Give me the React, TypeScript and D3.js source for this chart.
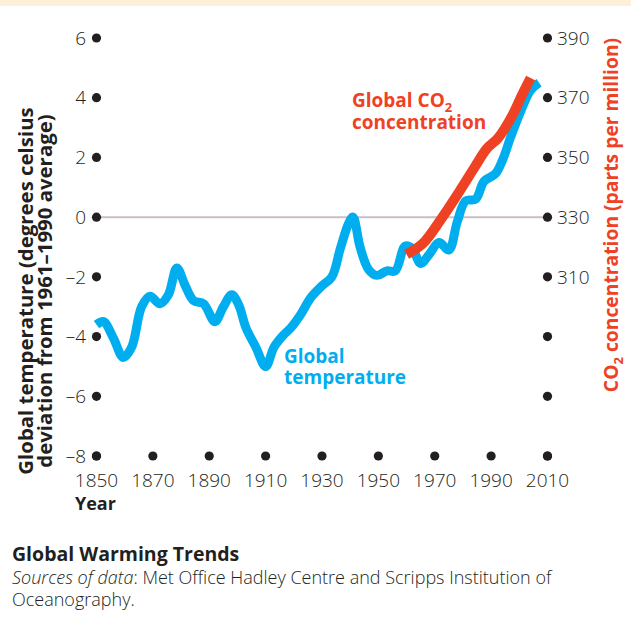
import React from "react";
import * as d3 from "d3";

const tempYears = [1850, 1852.5, 1856, 1859.5, 1862.5, 1866, 1869, 1872.5, 1875.5, 1878.5, 1881.5, 1884.5, 1888, 1892, 1895, 1898, 1900.5, 1903, 1906.5, 1910, 1913, 1916, 1919, 1922.5, 1926, 1930, 1933.5, 1936.5, 1939.5, 1941, 1943.5, 1946.5, 1949.5, 1953, 1956, 1959.5, 1962, 1965, 1968, 1971.5, 1975, 1978, 1981, 1984.5, 1987.5, 1991.5, 1994, 1997, 2000.5, 2004, 2007];
const tempValues = [-3.6, -3.5, -4.05, -4.7, -4.35, -3.0, -2.65, -2.9, -2.6, -1.7, -2.3, -2.8, -2.9, -3.5, -3.0, -2.6, -2.95, -3.7, -4.35, -5.0, -4.35, -3.98, -3.7, -3.25, -2.7, -2.3, -2.0, -1.05, -0.2, 0.0, -1.0, -1.75, -1.95, -1.8, -1.8, -0.97, -1.05, -1.55, -1.25, -0.85, -1.1, -0.15, 0.55, 0.6, 1.2, 1.45, 1.9, 2.7, 3.55, 4.25, 4.5];

const co2Years = [1960, 1966, 1972, 1978, 1984, 1988.5, 1992.5, 1997.5, 2001, 2004];
const co2Values = [317.5, 321.4, 329, 337.5, 346.5, 353, 356.5, 364, 371, 376.6];

const tempTicks = [-8, -6, -4, -2, 0, 2, 4, 6];
const co2Ticks = [250, 270, 290, 310, 330, 350, 370, 390];
const co2Labelled = [310, 330, 350, 370, 390];
const yearTicks = [1850, 1870, 1890, 1910, 1930, 1950, 1970, 1990, 2010];

const BLUE = "#00aeef";
const RED = "#ef4123";
const DARK = "#231f20";
const FONT = "'Open Sans', sans-serif";

export default function App() {
  const x = d3.scaleLinear().domain([1850, 2010]).range([96.5, 547.5]);
  const yT = d3.scaleLinear().domain([-8, 6]).range([456, 38]);
  const yC = d3.scaleLinear().domain([250, 390]).range([456, 38]);

  const tempLine = d3
    .line<number>()
    .x((_, i) => x(tempYears[i]))
    .y((d) => yT(d))
    .curve(d3.curveCatmullRom.alpha(0.5));
  const co2Line = d3
    .line<number>()
    .x((_, i) => x(co2Years[i]))
    .y((d) => yC(d))
    .curve(d3.curveCatmullRom.alpha(0.5));

  return (
    <div style={{ position: "fixed", left: 0, top: 0, width: 631, height: 619, background: "#fff" }}>
      <svg width={631} height={619} style={{ display: "block" }} fontFamily={FONT}>
        <rect x={0} y={0} width={631} height={6} fill="#fef0d8" />
        {/* zero line */}
        <line x1={x(1850)} x2={x(2010)} y1={yT(0)} y2={yT(0)} stroke="#c9bec6" strokeWidth={2} />

        {/* lines */}
        <path d={tempLine(tempValues) || ""} fill="none" stroke={BLUE} strokeWidth={9} strokeLinejoin="round" strokeLinecap="butt" />
        <path d={co2Line(co2Values) || ""} fill="none" stroke={RED} strokeWidth={10} strokeLinejoin="round" strokeLinecap="butt" />

        {/* left ticks */}
        {tempTicks.map((t) => (
          <g key={"l" + t}>
            <circle cx={x(1850)} cy={yT(t)} r={4.6} fill={DARK} />
            <text x={86} y={yT(t)} dy="0.35em" textAnchor="end" fontSize={19} fill={DARK} fontWeight={300}>
              {t < 0 ? "–" + Math.abs(t) : String(t)}
            </text>
          </g>
        ))}
        {/* right ticks */}
        {co2Ticks.map((t) => (
          <g key={"r" + t}>
            <circle cx={x(2010)} cy={yC(t)} r={4.6} fill={DARK} />
            {co2Labelled.includes(t) && (
              <text x={557} y={yC(t)} dy="0.35em" textAnchor="start" fontSize={19} fill={DARK} fontWeight={300}>
                {t}
              </text>
            )}
          </g>
        ))}
        {/* bottom ticks */}
        {yearTicks.map((yr) => (
          <g key={"b" + yr}>
            <circle cx={x(yr)} cy={yT(-8)} r={4.6} fill={DARK} />
            <text x={x(yr)} y={487} textAnchor="middle" fontSize={19} fill={DARK} fontWeight={300}>
              {yr}
            </text>
          </g>
        ))}
        <text x={75} y={510} fontSize={18} fontWeight={700} fill={DARK}>Year</text>

        {/* left axis title */}
        <g transform="translate(33,291) rotate(-90)">
          <text textAnchor="middle" fontSize={20.4} fontWeight={700} fill={DARK}>
            <tspan x={0} y={0}>Global temperature (degrees celsius</tspan>
            <tspan x={0} y={19}>deviation from 1961–1990 average)</tspan>
          </text>
        </g>

        {/* right axis title */}
        <g transform="translate(618,215) rotate(-90)">
          <text textAnchor="middle" fontSize={19.3} fontWeight={700} fill={RED}>
            CO<tspan fontSize={13} dy={5}>2</tspan>
            <tspan dy={-5}> concentration (parts per million)</tspan>
          </text>
        </g>

        {/* series labels */}
        <text fontSize={19} fontWeight={700} fill={BLUE}>
          <tspan x={284} y={363}>Global</tspan>
          <tspan x={284} y={384}>temperature</tspan>
        </text>
        <text fontSize={19} fontWeight={700} fill={RED}>
          <tspan x={352} y={107}>Global CO</tspan>
          <tspan fontSize={13} dy={5}>2</tspan>
          <tspan x={352} y={129}>concentration</tspan>
        </text>

        {/* caption */}
        <text x={12} y={561} fontSize={19.5} fontWeight={700} fill={DARK}>Global Warming Trends</text>
        <text fontSize={18} fill={DARK} fontWeight={300}>
          <tspan x={12} y={584}>
            <tspan fontStyle="italic">Sources of data</tspan>: Met Office Hadley Centre and Scripps Institution of
          </tspan>
          <tspan x={12} y={606}>Oceanography.</tspan>
        </text>
      </svg>
    </div>
  );
}
